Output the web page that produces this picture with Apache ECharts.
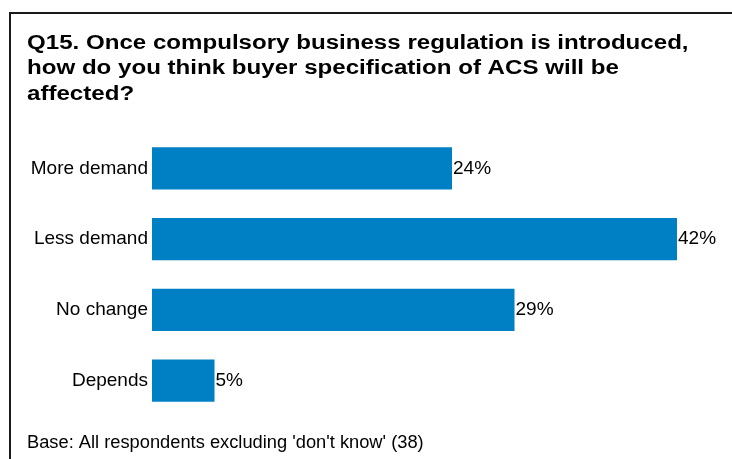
<!DOCTYPE html>
<html>
<head>
<meta charset="utf-8">
<script src="https://cdn.jsdelivr.net/npm/echarts@6/dist/echarts.min.js"></script>
<style>
  html, body { margin: 0; padding: 0; background: #fff; }
  #chart { width: 732px; height: 459px; }
</style>
</head>
<body>
<div id="chart"></div>
<script>
// Survey responses to Q15
const categories = ['More demand', 'Less demand', 'No change', 'Depends'];
const shares = [24, 42, 29, 5];
const titleText = 'Q15. Once compulsory business regulation is introduced,\nhow do you think buyer specification of ACS will be\naffected?';
const baseNote = "Base: All respondents excluding 'don't know' (38)";

const chart = echarts.init(document.getElementById('chart'), null, { renderer: 'canvas' });
const font = '"Liberation Sans", Arial, sans-serif';

chart.setOption({
  animation: false,
  backgroundColor: '#ffffff',
  graphic: [
    {
      // frame around the chart area
      type: 'rect',
      shape: { x: 10, y: 13, width: 740, height: 470 },
      style: { fill: 'none', stroke: '#1a1a1a', lineWidth: 2 },
      silent: true
    },
    {
      // heading, drawn slightly widened; y is the middle of the three-line block
      type: 'text',
      x: 27,
      y: 68.8,
      scaleX: 1.205,
      style: {
        text: titleText,
        x: 0,
        y: 0,
        font: 'bold 20px ' + font,
        lineHeight: 25.3,
        verticalAlign: 'middle',
        fill: '#000'
      },
      silent: true
    },
    {
      type: 'text',
      x: 27,
      y: 442.7,
      style: {
        text: baseNote,
        x: 0,
        y: 0,
        font: '18.3px ' + font,
        verticalAlign: 'middle',
        fill: '#000'
      },
      silent: true
    }
  ],
  grid: {
    left: 152,
    top: 133,
    width: 562.5,
    height: 283,
    containLabel: false
  },
  xAxis: {
    type: 'value',
    min: 0,
    max: 45,
    show: false
  },
  yAxis: {
    type: 'category',
    inverse: true,
    data: categories,
    axisLine: { show: false },
    axisTick: { show: false },
    axisLabel: {
      margin: 4,
      fontFamily: font,
      fontSize: 19,
      color: '#000'
    }
  },
  series: [{
    type: 'bar',
    data: shares,
    barCategoryGap: '40%',
    itemStyle: { color: '#0080C4' },
    label: {
      show: true,
      position: 'right',
      distance: 1,
      formatter: '{c}%',
      fontFamily: font,
      fontSize: 19,
      color: '#000'
    }
  }]
});
</script>
</body>
</html>
